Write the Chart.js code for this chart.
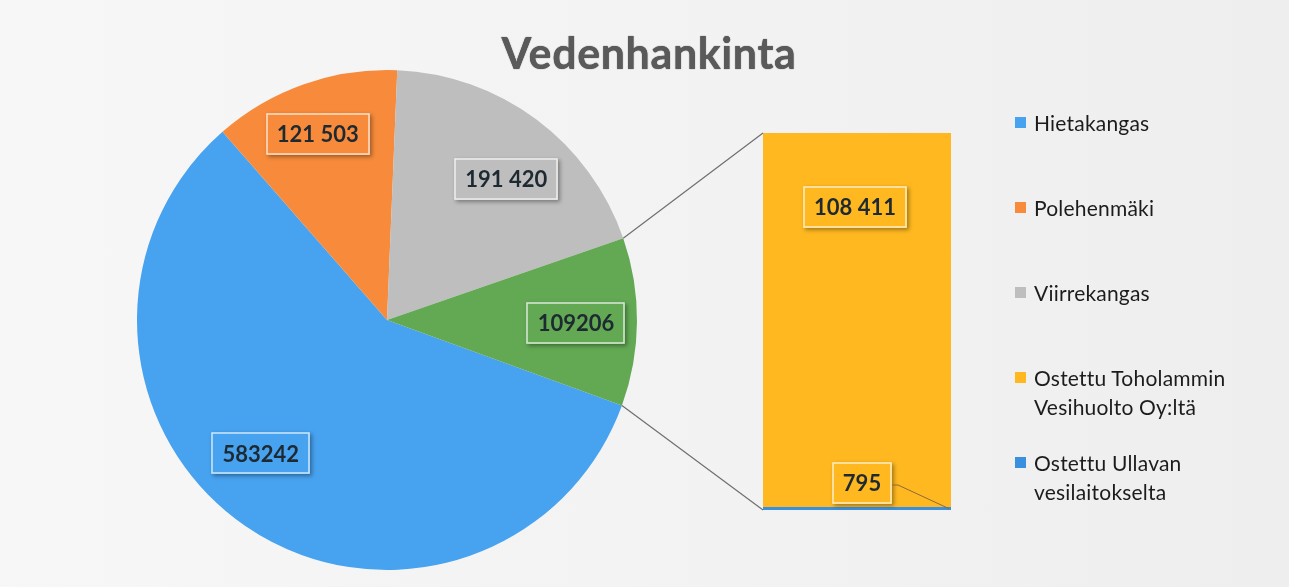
<!DOCTYPE html>
<html lang="fi">
<head>
<meta charset="utf-8">
<title>Vedenhankinta</title>
<script src="https://cdn.jsdelivr.net/npm/chart.js@4.4.1/dist/chart.umd.min.js"></script>
<style>
  body { margin: 0; background: #f3f3f4; }
  #wrap { position: relative; width: 1289px; height: 587px; overflow: hidden;
          background: linear-gradient(90deg, #f7f7f8 0%, #f2f2f3 60%, #eeeeef 100%);
          font-family: Lato, "Open Sans", sans-serif; }
  #wrap canvas { position: absolute; left: 0; top: 0; }
  #title { position: absolute; left: 0; width: 1298px; top: 31px; text-align: center;
           font: bold 43px/43px Lato, "Open Sans", sans-serif; letter-spacing: 0.6px;
           color: #5a5a5a; text-shadow: 0 0 1px #333; }
  #legend { position: absolute; left: 1015px; top: 108px; }
  .lg-item { display: flex; align-items: flex-start; height: 85px; }
  .lg-box { width: 11px; height: 11px; margin: 9px 8px 0 0; flex: none; }
  .lg-text { font-size: 21px; line-height: 29px; color: #1c1c1c; width: 230px; letter-spacing: 0.2px; }
</style>
</head>
<body>
<div id="wrap">
  <canvas id="pie" width="1289" height="587"></canvas>
  <canvas id="bar" width="1289" height="587"></canvas>
  <div id="title">Vedenhankinta</div>
  <div id="legend"></div>
</div>
<script>
// ── DATA ─────────────────────────────────────
const pieLabels = ['Hietakangas', 'Polehenmäki', 'Viirrekangas', 'Muu'];
const pieValues = [583242, 121503, 191420, 109206];
const pieText   = ['583242', '121 503', '191 420', '109206'];
const pieColors = ['#47a2ef', '#f78b3b', '#bebebe', '#63a954'];

const barLabels = ['Ostettu Toholammin Vesihuolto Oy:ltä', 'Ostettu Ullavan vesilaitokselta'];
const barValues = [108411, 795];
const barText   = ['108 411', '795'];
const barColors = ['#ffb820', '#3b8fdf'];

const FONT = 'Lato, "Open Sans", sans-serif';

// ── LABEL BOX ────────────────────────────────
function drawBox(ctx, cx, cy, text, fill) {
  ctx.save();
  ctx.font = `bold 22px ${FONT}`;
  const w = Math.round(ctx.measureText(text).width + 22), h = 42;
  const x = Math.round(cx - w / 2), y = Math.round(cy - h / 2);
  ctx.shadowColor = 'rgba(0,0,0,0.35)';
  ctx.shadowBlur = 4; ctx.shadowOffsetX = 2; ctx.shadowOffsetY = 2;
  ctx.fillStyle = fill;
  ctx.fillRect(x, y, w, h);
  ctx.shadowColor = 'transparent';
  ctx.strokeStyle = 'rgba(255,255,255,0.75)';
  ctx.lineWidth = 1.5;
  ctx.strokeRect(x + 1, y + 1, w - 2, h - 2);
  ctx.fillStyle = '#1e2a32';
  ctx.textAlign = 'center'; ctx.textBaseline = 'middle';
  ctx.fillText(text, cx, cy + 1);
  ctx.restore();
  return { x, y, w, h };
}

// pie labels, placed along each slice's mid angle
const pieLabelPlugin = {
  id: 'pieLabels',
  afterDatasetsDraw(chart, args, opts) {
    const ctx = chart.ctx;
    chart.getDatasetMeta(0).data.forEach((arc, i) => {
      const a = (arc.startAngle + arc.endAngle) / 2 + (opts.shift[i] || 0) * Math.PI / 180;
      const r = arc.outerRadius * opts.dist[i];
      drawBox(ctx, arc.x + r * Math.cos(a), arc.y + r * Math.sin(a), pieText[i], pieColors[i]);
    });
  }
};

// bar labels + connector lines to the pie
const barDecorPlugin = {
  id: 'barDecor',
  afterDatasetsDraw(chart) {
    const ctx = chart.ctx;
    const area = chart.chartArea;
    const arc = pieChart.getDatasetMeta(0).data[3];
    const r = arc.outerRadius;

    ctx.save();
    ctx.strokeStyle = '#6f6f6f';
    ctx.lineWidth = 1.2;
    ctx.beginPath();
    ctx.moveTo(arc.x + r * Math.cos(arc.startAngle), arc.y + r * Math.sin(arc.startAngle));
    ctx.lineTo(area.left, area.top);
    ctx.moveTo(arc.x + r * Math.cos(arc.endAngle), arc.y + r * Math.sin(arc.endAngle));
    ctx.lineTo(area.left, area.bottom);
    ctx.stroke();
    ctx.restore();

    // datasets are stacked bottom-up, so index 1 = Toholampi, index 0 = Ullava
    const top = chart.getDatasetMeta(1).data[0];
    const bottom = chart.getDatasetMeta(0).data[0];
    drawBox(ctx, top.x - 2, top.y + 74, barText[0], barColors[0]);
    const b = drawBox(ctx, bottom.x + 5, bottom.y - 24, barText[1], barColors[0]);

    ctx.save();
    ctx.strokeStyle = '#8a6a3a';
    ctx.lineWidth = 1;
    ctx.beginPath();
    ctx.moveTo(b.x + b.w, b.y + b.h / 2 + 2);
    ctx.lineTo(b.x + b.w + 6, b.y + b.h / 2 + 2);
    ctx.lineTo(bottom.x + bottom.width / 2 - 2, (bottom.y + bottom.base) / 2);
    ctx.stroke();
    ctx.restore();
  }
};

// ── PIE ──────────────────────────────────────
const pieChart = new Chart(document.getElementById('pie'), {
  type: 'pie',
  data: {
    labels: pieLabels,
    datasets: [{ data: pieValues, backgroundColor: pieColors, borderWidth: 0 }]
  },
  options: {
    responsive: false, animation: false,
    rotation: 110,
    layout: { padding: { left: 137, right: 652, top: 70, bottom: 17 } },
    plugins: {
      legend: { display: false },
      tooltip: { enabled: false },
      pieLabels: { shift: [9, -1, 3.5, 0.5], dist: [0.735, 0.795, 0.74, 0.756] }
    }
  },
  plugins: [pieLabelPlugin]
});

// ── BAR ──────────────────────────────────────
const barTotal = barValues.reduce((s, v) => s + v, 0);
const barChart = new Chart(document.getElementById('bar'), {
  type: 'bar',
  data: {
    labels: [''],
    datasets: barLabels.map((l, i) => ({
      label: l,
      data: [barValues[i]],
      backgroundColor: barColors[i],
      borderWidth: 0,
      barPercentage: 1,
      categoryPercentage: 1
    })).reverse()
  },
  options: {
    responsive: false, animation: false,
    layout: { padding: { left: 763, right: 338, top: 133, bottom: 77 } },
    scales: {
      x: { stacked: true, display: false },
      y: { stacked: true, display: false, min: 0, max: barTotal }
    },
    plugins: { legend: { display: false }, tooltip: { enabled: false } }
  },
  plugins: [barDecorPlugin]
});

// ── LEGEND ───────────────────────────────────
const legendNames  = pieLabels.slice(0, 3).concat(barLabels);
const legendColors = pieColors.slice(0, 3).concat(barColors);
document.getElementById('legend').innerHTML = legendNames.map((n, i) => `
  <div class="lg-item">
    <div class="lg-box" style="background:${legendColors[i]}"></div>
    <div class="lg-text">${n}</div>
  </div>`).join('');
</script>
</body>
</html>
